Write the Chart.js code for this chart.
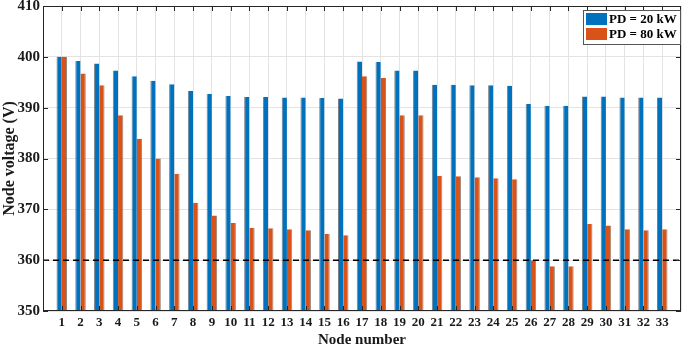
<!DOCTYPE html>
<html lang="en">
<head>
    <meta charset="UTF-8">
    <title>Node voltage</title>
    <script src="https://cdn.jsdelivr.net/npm/chart.js@4.4.0/dist/chart.umd.min.js"></script>
    <style>
        body { margin: 0; background: #fff; }
    </style>
</head>
<body>

<canvas id="myChart" width="685" height="348"></canvas>

<script>

    // node numbers 1..33
    var nodes = [1, 2, 3, 4, 5, 6, 7, 8, 9, 10, 11, 12, 13, 14, 15, 16, 17,
        18, 19, 20, 21, 22, 23, 24, 25, 26, 27, 28, 29, 30, 31, 32, 33];

    var pd20 = [400.0, 399.2, 398.7, 397.3, 396.2, 395.3, 394.6, 393.3, 392.7, 392.3, 392.1,
        392.1, 392.0, 392.0, 391.9, 391.8, 399.1, 399.0, 397.3, 397.3, 394.5, 394.5,
        394.4, 394.4, 394.3, 390.7, 390.4, 390.4, 392.2, 392.2, 392.0, 392.0, 392.0];

    var pd80 = [400.0, 396.7, 394.4, 388.5, 383.9, 380.0, 377.0, 371.3, 368.8, 367.3, 366.4,
        366.3, 366.1, 365.9, 365.2, 364.9, 396.2, 395.9, 388.5, 388.5, 376.6, 376.5,
        376.3, 376.1, 375.9, 360.0, 358.8, 358.8, 367.1, 366.8, 366.1, 365.9, 366.1];

    var seriesLabels = ['PD = 20 kW', 'PD = 80 kW'];
    var seriesColors = ['#0072BD', '#D95319'];
    var yTicks = [350, 360, 370, 380, 390, 400, 410];
    var limitVoltage = 360;

    var serif = '"Liberation Serif", "Times New Roman", serif';

    function points(values) {
        return nodes.map(function (n, i) { return {x: n, y: values[i]}; });
    }

    // box, inward ticks, dashed limit line, legend (drawn like matlab)
    var extras = {
        id: 'extras',
        afterDatasetsDraw: function (chart) {
            var c = chart.ctx, a = chart.chartArea;
            var y = chart.scales.y;

            var yl = y.getPixelForValue(limitVoltage);
            c.save();
            c.strokeStyle = '#000';
            c.lineWidth = 1.5;
            c.setLineDash([6, 4]);
            c.beginPath();
            c.moveTo(a.left, yl);
            c.lineTo(a.right, yl);
            c.stroke();
            c.restore();
        },
        afterDraw: function (chart) {
            var c = chart.ctx, a = chart.chartArea;
            var x = chart.scales.x, y = chart.scales.y;
            c.save();
            c.strokeStyle = '#262626';
            c.lineWidth = 1;
            c.strokeRect(a.left + 0.5, a.top + 0.5, a.right - a.left - 1, a.bottom - a.top - 1);

            nodes.forEach(function (n) {
                var px = Math.round(x.getPixelForValue(n)) + 0.5;
                c.beginPath();
                c.moveTo(px, a.bottom); c.lineTo(px, a.bottom - 5);
                c.moveTo(px, a.top); c.lineTo(px, a.top + 5);
                c.stroke();
            });
            yTicks.forEach(function (v) {
                var py = Math.round(y.getPixelForValue(v)) + 0.5;
                c.beginPath();
                c.moveTo(a.left, py); c.lineTo(a.left + 5, py);
                c.moveTo(a.right, py); c.lineTo(a.right - 5, py);
                c.stroke();
            });

            // legend box
            var bx = 583, by = 10, bw = 97, bh = 34;
            c.fillStyle = '#fff';
            c.fillRect(bx, by, bw, bh);
            c.strokeStyle = '#555';
            c.strokeRect(bx + 0.5, by + 0.5, bw, bh);
            c.font = 'bold 13px ' + serif;
            c.textBaseline = 'middle';
            seriesLabels.forEach(function (lab, i) {
                var ry = by + 3 + i * 15;
                c.fillStyle = seriesColors[i];
                c.fillRect(bx + 3, ry, 21, 12);
                c.fillStyle = '#000';
                c.fillText(lab, bx + 26, ry + 6.5);
            });
            c.restore();
        }
    };

    var ctx = document.getElementById('myChart');

    var chart = new Chart(ctx, {
        type: 'bar',
        data: {
            datasets: [{
                label: seriesLabels[0],
                data: points(pd20),
                backgroundColor: seriesColors[0],
                borderColor: 'rgba(10,25,45,0.55)',
                borderWidth: {left: 1, right: 0, top: 0, bottom: 0},
                borderSkipped: false
            }, {
                label: seriesLabels[1],
                data: points(pd80),
                backgroundColor: seriesColors[1],
                borderColor: 'rgba(50,20,5,0.5)',
                borderWidth: {left: 0, right: 1, top: 0, bottom: 0},
                borderSkipped: false
            }]
        },
        plugins: [extras],
        options: {
            responsive: false,
            animation: false,
            layout: {padding: {top: 0, right: 2, left: 0, bottom: 0}},
            datasets: {bar: {categoryPercentage: 0.56, barPercentage: 1.0}},
            plugins: {
                legend: {display: false},
                tooltip: {enabled: false}
            },
            scales: {
                x: {
                    type: 'linear',
                    min: 0,
                    max: 34,
                    offset: false,
                    afterFit: function (s) { s.height = 37; },
                    afterBuildTicks: function (s) {
                        s.ticks = [0].concat(nodes, [34]).map(function (v) { return {value: v}; });
                    },
                    ticks: {
                        autoSkip: false,
                        maxRotation: 0,
                        padding: 4,
                        color: '#1a1a1a',
                        font: {family: serif, size: 13, weight: 'bold'},
                        callback: function (v) { return (v >= 1 && v <= 33) ? v : ''; }
                    },
                    grid: {color: '#e3e3e3', drawTicks: false, offset: false},
                    border: {display: false},
                    title: {
                        display: true,
                        text: 'Node number',
                        color: '#1a1a1a',
                        padding: {top: 0, bottom: 0},
                        font: {family: serif, size: 15, weight: 'bold', lineHeight: 1}
                    }
                },
                y: {
                    min: 350,
                    max: 410,
                    afterFit: function (s) {
                        s.width = 43;
                        s.paddingTop = 6;
                        s.paddingBottom = 0;
                    },
                    afterBuildTicks: function (s) {
                        s.ticks = yTicks.map(function (v) { return {value: v}; });
                    },
                    ticks: {
                        padding: 3,
                        color: '#1a1a1a',
                        font: {family: serif, size: 15, weight: 'bold'}
                    },
                    grid: {color: '#e3e3e3', drawTicks: false},
                    border: {display: false},
                    title: {
                        display: true,
                        text: 'Node voltage (V)',
                        color: '#1a1a1a',
                        padding: {top: 0, bottom: 0},
                        font: {family: serif, size: 16, weight: 'bold'}
                    }
                }
            }
        }
    });

</script>

</body>
</html>
